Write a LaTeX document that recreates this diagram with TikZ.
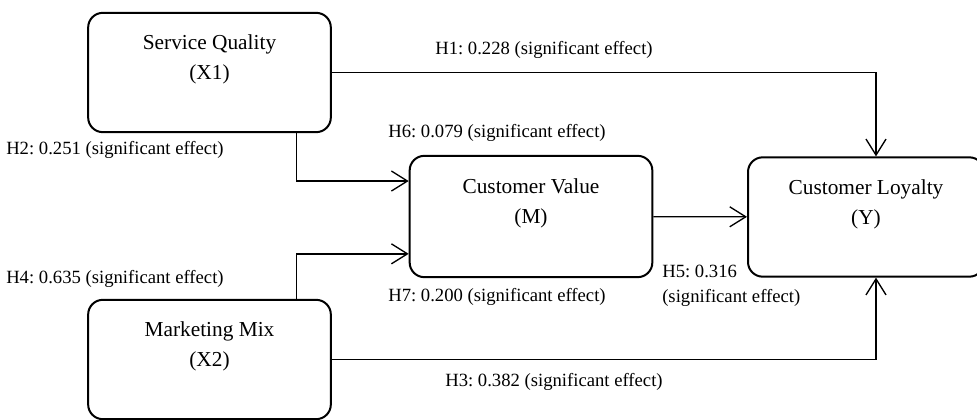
\documentclass[tikz,border=0pt]{standalone}
\usepackage{fontspec}
\setmainfont{Liberation Serif}
\usetikzlibrary{arrows.meta,positioning,calc}
\frenchspacing
\tikzset{
    every node/.append style={align=center},
    box/.style={rectangle,draw=black,line width=1.5pt,rounded corners=11pt,minimum height=89.5pt,
        minimum width=182pt,font=\fontsize{16}{22.5}\selectfont,fill=white,inner sep=0pt},
    arr/.style={-{Straight Barb[length=12pt,width=15pt,line width=1pt]},line width=1pt},
    lbl/.style={font=\fontsize{14}{18.75}\selectfont,inner sep=0pt,anchor=west,align=left}
}
\begin{document}
\begin{tikzpicture}[x=0.75pt,y=-0.75pt]
    \useasboundingbox (0,0) rectangle (977,420);
    \node[box]                    (sq) at (209.5, 72.5) {Service Quality\\(X1)\\~};
    \node[box]                    (mm) at (209.5,359.5) {Marketing Mix\\(X2)\\~};
    \node[box,minimum height=91pt] (cv) at (531,216.5)   {Customer Value\\(M)\\~};
    \node[box,minimum width=177pt] (cl) at (866,217)     {Customer Loyalty\\(Y)\\~};

    \node[lbl] (h1) at (435, 50) {H1: 0.228 (significant effect)};
    \node[lbl] (h2) at (6,  150) {H2: 0.251 (significant effect)};
    \node[lbl] (h6) at (388,133) {H6: 0.079 (significant effect)};
    \node[lbl] (h4) at (6,  279) {H4: 0.635 (significant effect)};
    \node[lbl] (h7) at (388,297) {H7: 0.200 (significant effect)};
    \node[lbl] (h5) at (662,286) {H5: 0.316\\(significant effect)};
    \node[lbl] (h3) at (445,382) {H3: 0.382 (significant effect)};

    \draw[arr] (sq.east) -| ([xshift=7.5pt]cl.north);
    \draw[arr] ([xshift=65pt]sq.south) |- ([yshift=26.6pt]cv.west);
    \draw[arr] ([xshift=65pt]mm.north) |- ([yshift=-28pt]cv.west);
    \draw[arr] (cv) -- (cl);
    \draw[arr] (mm.east) -| ([xshift=7.5pt]cl.south);
\end{tikzpicture}
\end{document}
